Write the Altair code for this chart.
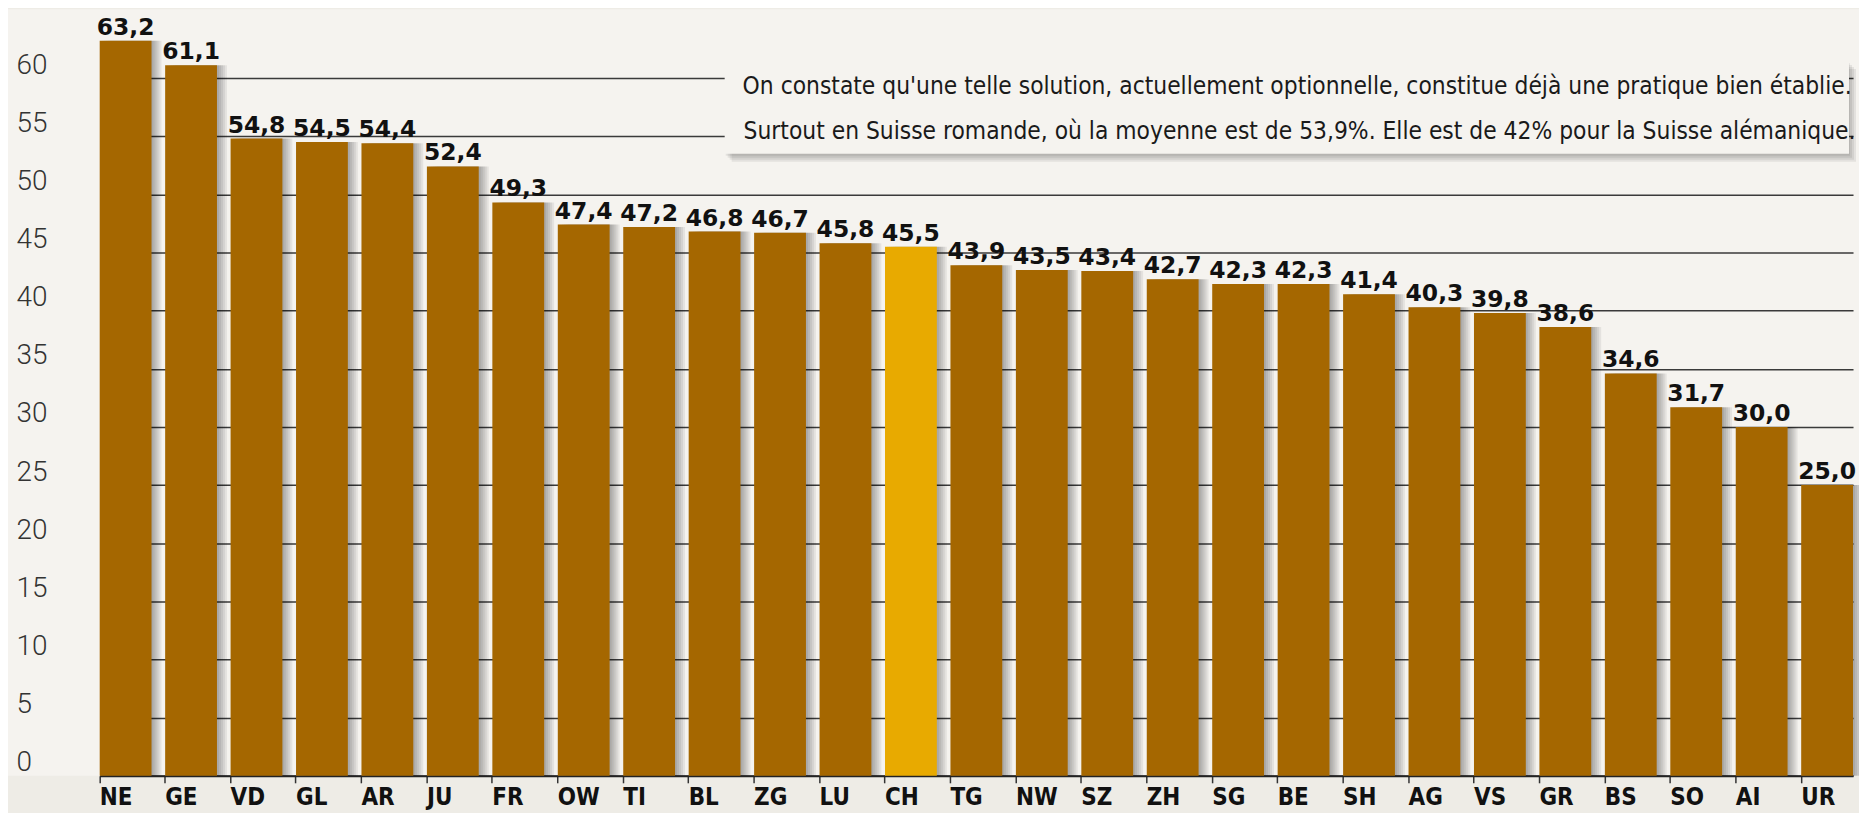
import altair as alt
import pandas as pd

# ---- data ----
cantons = ["NE", "GE", "VD", "GL", "AR", "JU", "FR", "OW", "TI", "BL", "ZG", "LU", "CH",
           "TG", "NW", "SZ", "ZH", "SG", "BE", "SH", "AG", "VS", "GR", "BS", "SO", "AI", "UR"]
values = [63.2, 61.1, 54.8, 54.5, 54.4, 52.4, 49.3, 47.4, 47.2, 46.8, 46.7, 45.8, 45.5,
          43.9, 43.5, 43.4, 42.7, 42.3, 42.3, 41.4, 40.3, 39.8, 38.6, 34.6, 31.7, 30.0, 25.0]
highlight = "CH"
y_ticks = [0, 5, 10, 15, 20, 25, 30, 35, 40, 45, 50, 55, 60]
note_lines = [
    "On constate qu'une telle solution, actuellement optionnelle, constitue déjà une pratique bien établie.",
    "Surtout en Suisse romande, où la moyenne est de 53,9%. Elle est de 42% pour la Suisse alémanique.",
]

df = pd.DataFrame({
    "canton": cantons,
    "value": values,
    "label": [f"{v:.1f}".replace(".", ",") for v in values],
})

# ---- style ----
W, H = 1857, 769
BAR = "#a56700"
HIGH = "#e8aa00"
PLOT_BG = "#f5f3ef"
STRIP_BG = "#eeece6"
NARROW = "Liberation Sans Narrow, DejaVu Sans Condensed, Roboto, sans-serif"
LIGHT = "Roboto, Liberation Sans Narrow, sans-serif"
HEAVY = "DejaVu Sans, Liberation Sans, sans-serif"
PAD_INNER = 0.208
RANGE = [92, 1851]
half_band = (RANGE[1] - RANGE[0]) / (len(cantons) - PAD_INNER) * (1 - PAD_INNER) / 2

xscale = alt.Scale(domain=cantons, range=RANGE, paddingInner=PAD_INNER, paddingOuter=0)
yscale = alt.Scale(domain=[0, 65.91], nice=False, zero=True)

base = alt.Chart(df)

x_enc = alt.X("canton:N", sort=cantons, scale=xscale,
              axis=alt.Axis(title=None, bandPosition=0, labelAngle=0, labelAlign="left",
                            labelOffset=-half_band,
                            labelBaseline="top", labelFont=NARROW, labelFontSize=24,
                            labelFontWeight="bold", labelColor="#111111", labelPadding=3,
                            tickSize=7, tickColor="#333333", tickWidth=1.5,
                            domainColor="#222222", domainWidth=2, grid=False,
                            labelOverlap=False))
y_enc = alt.Y("value:Q", scale=yscale,
              axis=alt.Axis(title=None, values=y_ticks, grid=True, gridColor="#3a3a3a",
                            gridWidth=1.5, ticks=False, domain=False, labelAlign="left",
                            labelBaseline="alphabetic", labelPadding=-8, labelOffset=-5,
                            labelFont=LIGHT, labelFontWeight=300, labelFontSize=28,
                            labelColor="#333333"))

# soft shadows to the right of bars
shadows = [
    base.mark_bar(color="#000000", opacity=0.065, xOffset=off).encode(
        x=alt.X("canton:N", sort=cantons, scale=xscale), y=alt.Y("value:Q", scale=yscale))
    for off in (2, 4, 6, 8, 10)
]

bars = base.mark_bar().encode(
    x=x_enc,
    y=y_enc,
    color=alt.condition(alt.datum.canton == highlight, alt.value(HIGH), alt.value(BAR)),
)

labels = base.mark_text(baseline="alphabetic", dy=-6, font=HEAVY, fontWeight="bold",
                        fontSize=23.5, color="#111111").encode(
    x=alt.X("canton:N", sort=cantons, scale=xscale),
    y=alt.Y("value:Q", scale=yscale),
    text="label:N",
)

# annotation box
one = pd.DataFrame({"k": [0]})
BX0, BX1, BY0, BY1 = 719, 1847, 52, 145
box_shadow = [
    alt.Chart(one).mark_rect(color="#000000", opacity=0.07).encode(
        x=alt.value(BX0 + dx), x2=alt.value(BX1 + dx), y=alt.value(BY0 + dy), y2=alt.value(BY1 + dy))
    for dx, dy in ((1, 2), (3, 4), (5, 6), (7, 8))
]
box = alt.Chart(one).mark_rect(color=PLOT_BG).encode(
    x=alt.value(BX0), x2=alt.value(BX1), y=alt.value(BY0), y2=alt.value(BY1))
note1 = alt.Chart(pd.DataFrame({"t": [note_lines[0]]})).mark_text(
    align="left", baseline="alphabetic", font=NARROW, fontSize=24.4, color="#1a1a1a").encode(
    x=alt.value(737), y=alt.value(85), text="t:N")
note2 = alt.Chart(pd.DataFrame({"t": [note_lines[1]]})).mark_text(
    align="left", baseline="alphabetic", font=NARROW, fontSize=24.4, color="#1a1a1a").encode(
    x=alt.value(738), y=alt.value(130), text="t:N")

chart = alt.layer(*shadows, bars, labels, *box_shadow, box, note1, note2).properties(
    width=W, height=H,
    autosize=alt.AutoSizeParams(type="none"),
    padding={"left": 0, "top": 0, "right": 0, "bottom": 36},
    background=STRIP_BG,
).configure_view(fill=PLOT_BG, stroke=None)

chart.save("out.html", embed_options={"renderer": "svg", "actions": False})
